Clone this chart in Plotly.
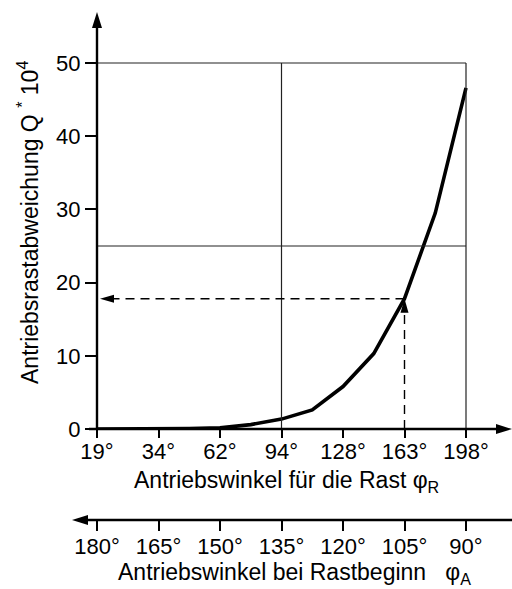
import plotly.graph_objects as go

# ---------------- data ----------------
phi_R_labels = ["19°", "34°", "62°", "94°", "128°", "163°", "198°"]
phi_A_labels = ["180°", "165°", "150°", "135°", "120°", "105°", "90°"]
# curve sampled at tick positions (index units of the phi_R ticks, half steps)
curve_pos = [0, 0.5, 1, 1.5, 2, 2.5, 3, 3.5, 4, 4.5, 5, 5.5, 6]
Q_values = [0, 0.0, 0.02, 0.05, 0.15, 0.6, 1.35, 2.6, 5.8, 10.3, 17.8, 29.5, 46.6]
y_ticks = [0, 10, 20, 30, 40, 50]
grid_R = ["94°", "198°"]
grid_Q = [25, 50]
lookup_R = "163°"

# ---------------- layout geometry ----------------
W, H = 512, 589
ML, MR, MT, MB = 97, 0, 12, 0
PW, PH = W - ML - MR, H - MT - MB
y0_px = 429              # pixel row of Q = 0
px_per_Q = 7.32
px_per_idx = 61.5
y_dom0 = (H - y0_px) / PH
x_range = [0, PW / px_per_idx]
y_range = [0, (y0_px - MT) / px_per_Q]
x2_pos = (H - 520) / PH
FONT = "Liberation Sans, Arial, sans-serif"
INK = "#000000"


def xp(v):                   # pixel x -> paper
    return (v - ML) / PW


def yp(v):                   # pixel y -> paper
    return (H - v) / PH


idx_R = {lab: i for i, lab in enumerate(phi_R_labels)}
tick_idx = list(range(len(phi_R_labels)))

fig = go.Figure()
fig.add_trace(go.Scatter(x=curve_pos, y=Q_values, mode="lines",
                         line=dict(color=INK, width=3.6), hoverinfo="skip",
                         showlegend=False))
fig.add_trace(go.Scatter(x=[None], y=[None], xaxis="x2", yaxis="y",
                         mode="lines", showlegend=False, hoverinfo="skip"))

shapes = []
# grid
for lab in grid_R:
    xi = idx_R[lab]
    shapes.append(dict(type="line", xref="x", yref="y", x0=xi, x1=xi, y0=0, y1=max(grid_Q),
                       line=dict(color="#222", width=1.2)))
for q in grid_Q:
    shapes.append(dict(type="line", xref="x", yref="y", x0=0, x1=idx_R[grid_R[-1]], y0=q, y1=q,
                       line=dict(color="#222", width=1.2)))

# dashed lookup
li = idx_R[lookup_R]
lq = Q_values[curve_pos.index(li)]
ah_len, ah_hw = 14, 4
shapes.append(dict(type="line", xref="x", yref="y", x0=li, x1=li, y0=0,
                   y1=lq - ah_len / px_per_Q,
                   line=dict(color=INK, width=1.4, dash="9px,6px")))
left_tip = 3 / px_per_idx
shapes.append(dict(type="line", xref="x", yref="y", x0=li, x1=left_tip + ah_len / px_per_idx,
                   y0=lq, y1=lq, line=dict(color=INK, width=1.4, dash="9px,6px")))


def head(xref, x, yref, y, d, length, hw):
    if d == "up":
        p = f"M0,0 L{-hw},{-length} L{hw},{-length} Z"
    elif d == "right":
        p = f"M0,0 L{-length},{hw} L{-length},{-hw} Z"
    else:  # left
        p = f"M0,0 L{length},{hw} L{length},{-hw} Z"
    return dict(type="path", xref=xref, yref=yref, xsizemode="pixel", ysizemode="pixel",
                xanchor=x, yanchor=y, path=p, fillcolor=INK, line=dict(color=INK, width=0))


shapes.append(head("x", li, "y", lq, "up", ah_len, ah_hw))
shapes.append(head("x", left_tip, "y", lq, "left", ah_len, ah_hw))

# main axes lines with arrows
shapes.append(dict(type="line", xref="paper", yref="paper", x0=0, x1=0, y0=y_dom0,
                   y1=1 - 12 / PH, line=dict(color=INK, width=2.4)))
shapes.append(head("paper", 0, "paper", 1, "up", 16, 5))
shapes.append(dict(type="line", xref="paper", yref="paper", x0=-8 / PW, x1=1 - 12 / PW,
                   y0=y_dom0, y1=y_dom0, line=dict(color=INK, width=2.4)))
shapes.append(head("paper", 1, "paper", y_dom0, "right", 16, 5))
# second (phi_A) axis
x2_left = xp(72)
shapes.append(dict(type="line", xref="paper", yref="paper", x0=x2_left + 12 / PW, x1=1,
                   y0=x2_pos, y1=x2_pos, line=dict(color=INK, width=2.4)))
shapes.append(head("paper", x2_left, "paper", x2_pos, "left", 16, 5))

tickfont = dict(family=FONT, size=22, color=INK)
titlefont = dict(family=FONT, size=23, color=INK)
fig.update_layout(
    width=W, height=H, margin=dict(l=ML, r=MR, t=MT, b=MB, autoexpand=False),
    plot_bgcolor="white", paper_bgcolor="white", showlegend=False,
    xaxis=dict(range=x_range, tickvals=tick_idx, ticktext=phi_R_labels,
               ticks="outside", ticklen=8, tickwidth=1.5, tickcolor=INK,
               showgrid=False, zeroline=False, showline=False, tickfont=tickfont,
               anchor="y", automargin=False, ticklabelstandoff=-5),
    xaxis2=dict(range=x_range, tickvals=tick_idx, ticktext=phi_A_labels, overlaying="x",
                anchor="free", position=x2_pos, side="bottom",
                ticks="outside", ticklen=10, tickwidth=1.5, tickcolor=INK,
                showgrid=False, zeroline=False, showline=False, tickfont=tickfont,
                automargin=False, ticklabelstandoff=-3),
    yaxis=dict(range=y_range, domain=[y_dom0, 1], tickvals=y_ticks,
               ticks="outside", ticklen=11, tickwidth=1.5, tickcolor=INK,
               showgrid=False, zeroline=False, showline=False, tickfont=tickfont,
               automargin=False),
    shapes=shapes,
    annotations=[
        dict(text="Antriebswinkel für die Rast φ<sub>R</sub>", xref="paper", yref="paper",
             x=xp(286), y=yp(481), xanchor="center", yanchor="middle",
             showarrow=False, font=titlefont),
        dict(text="Antriebswinkel bei Rastbeginn   φ<sub>A</sub>", xref="paper", yref="paper",
             x=xp(294), y=yp(573), xanchor="center", yanchor="middle",
             showarrow=False, font=titlefont),
        dict(text="Antriebsrastabweichung Q <sup>*</sup> 10<sup>4</sup>", xref="paper", yref="paper",
             x=xp(28), y=yp(223), xanchor="center", yanchor="middle",
             textangle=-90, showarrow=False, font=titlefont),
    ],
)

# place the figure at the page origin so that pixel positions match the window
fig.write_html("out.html", config={"displayModeBar": False},
               post_script="document.body.style.margin='0px';document.body.style.overflow='hidden';")
